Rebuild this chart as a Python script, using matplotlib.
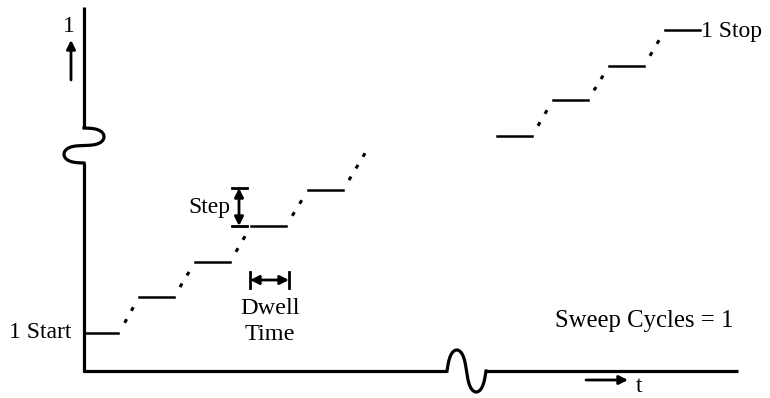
import matplotlib.pyplot as plt
import numpy as np

plt.rcParams['font.family'] = ['Liberation Serif', 'DejaVu Serif']

# staircase, in drawing units (x to the right, y downward like the picture)
low_start = [84, 139, 195, 251, 308]
low_level = [333, 297, 262, 226, 190]
high_start = [497, 553, 609, 665]
high_level = [136, 100, 66, 30]
dwell = 35

fig = plt.figure(figsize=(7.7, 3.98), dpi=100)
ax = fig.add_axes([0, 0, 1, 1])
ax.set_xlim(0, 770)
ax.set_ylim(398, 0)
ax.axis('off')

K = 'black'
axis_lw = 2.3
step_lw = 1.8

th = np.linspace(0, 2 * np.pi, 200)

# y axis with a break
ax.plot([84, 84], [7, 128], color=K, lw=axis_lw, solid_capstyle='butt')
ax.plot(84 + 20 * np.sin(th), 128 + 35 * (th - 0.45 * np.sin(2 * th)) / (2 * np.pi),
        color=K, lw=axis_lw)
ax.plot([84, 84], [163, 372], color=K, lw=axis_lw, solid_capstyle='butt')

# t axis with a break
ax.plot([83, 447], [371, 371], color=K, lw=axis_lw, solid_capstyle='butt')
ax.plot(447 + 39 * (th - 0.25 * np.sin(2 * th)) / (2 * np.pi), 371 - 21 * np.sin(th),
        color=K, lw=axis_lw)
ax.plot([486, 738], [371, 371], color=K, lw=axis_lw, solid_capstyle='butt')


def staircase(xs, ys, tail):
    for i, (x, y) in enumerate(zip(xs, ys)):
        x0 = x if x > 84 else 84
        ax.plot([x0, x + dwell - (1 if x == 84 else 0)], [y, y], color=K, lw=step_lw)
        if i + 1 < len(xs):
            nx, ny = xs[i + 1], ys[i + 1]
            ts = [1 / 3, 2 / 3]
        elif tail:
            nx, ny = x + dwell + 21, y - 35
            ts = [1 / 3, 2 / 3, 1.0]
        else:
            continue
        ex = x + dwell
        for t in ts:
            a, b = t - 0.05, t + 0.05
            ax.plot([ex + (nx - ex) * a, ex + (nx - ex) * b],
                    [y + (ny - y) * a, y + (ny - y) * b], color=K, lw=2.2,
                    solid_capstyle='butt')


staircase(low_start, low_level, True)
staircase(high_start, high_level, False)

arr = dict(color=K, lw=2, shrinkA=0, shrinkB=0, mutation_scale=13)
# axis arrows
ax.annotate('', xy=(71, 40), xytext=(71, 80), arrowprops=dict(arrowstyle='-|>', **arr))
ax.annotate('', xy=(628, 380), xytext=(586, 380), arrowprops=dict(arrowstyle='-|>', **arr))

# step size marker
ax.plot([232, 247], [188, 188], color=K, lw=2)
ax.plot([232, 247], [226, 226], color=K, lw=2)
ax.annotate('', xy=(239, 188), xytext=(239, 226),
            arrowprops=dict(arrowstyle='<|-|>', **arr))

# dwell time marker
ax.plot([250, 250], [272, 288], color=K, lw=2)
ax.plot([289, 289], [272, 288], color=K, lw=2)
ax.annotate('', xy=(250, 280), xytext=(289, 280),
            arrowprops=dict(arrowstyle='<|-|>', **arr))

fs = 17
ax.text(69, 32, '1', fontsize=fs, ha='center', va='baseline')
ax.text(71, 338, '1 Start', fontsize=fs, ha='right', va='baseline')
ax.text(230, 213, 'Step', fontsize=fs, ha='right', va='baseline')
ax.text(270, 314, 'Dwell', fontsize=17.5, ha='center', va='baseline')
ax.text(270, 340, 'Time', fontsize=17.5, ha='center', va='baseline')
ax.text(555, 327, 'Sweep Cycles = 1', fontsize=17.8, ha='left', va='baseline')
ax.text(701, 37, '1 Stop', fontsize=fs, ha='left', va='baseline')
ax.text(636, 392, 't', fontsize=fs, ha='left', va='baseline')

fig.savefig('out.png', dpi=100)
